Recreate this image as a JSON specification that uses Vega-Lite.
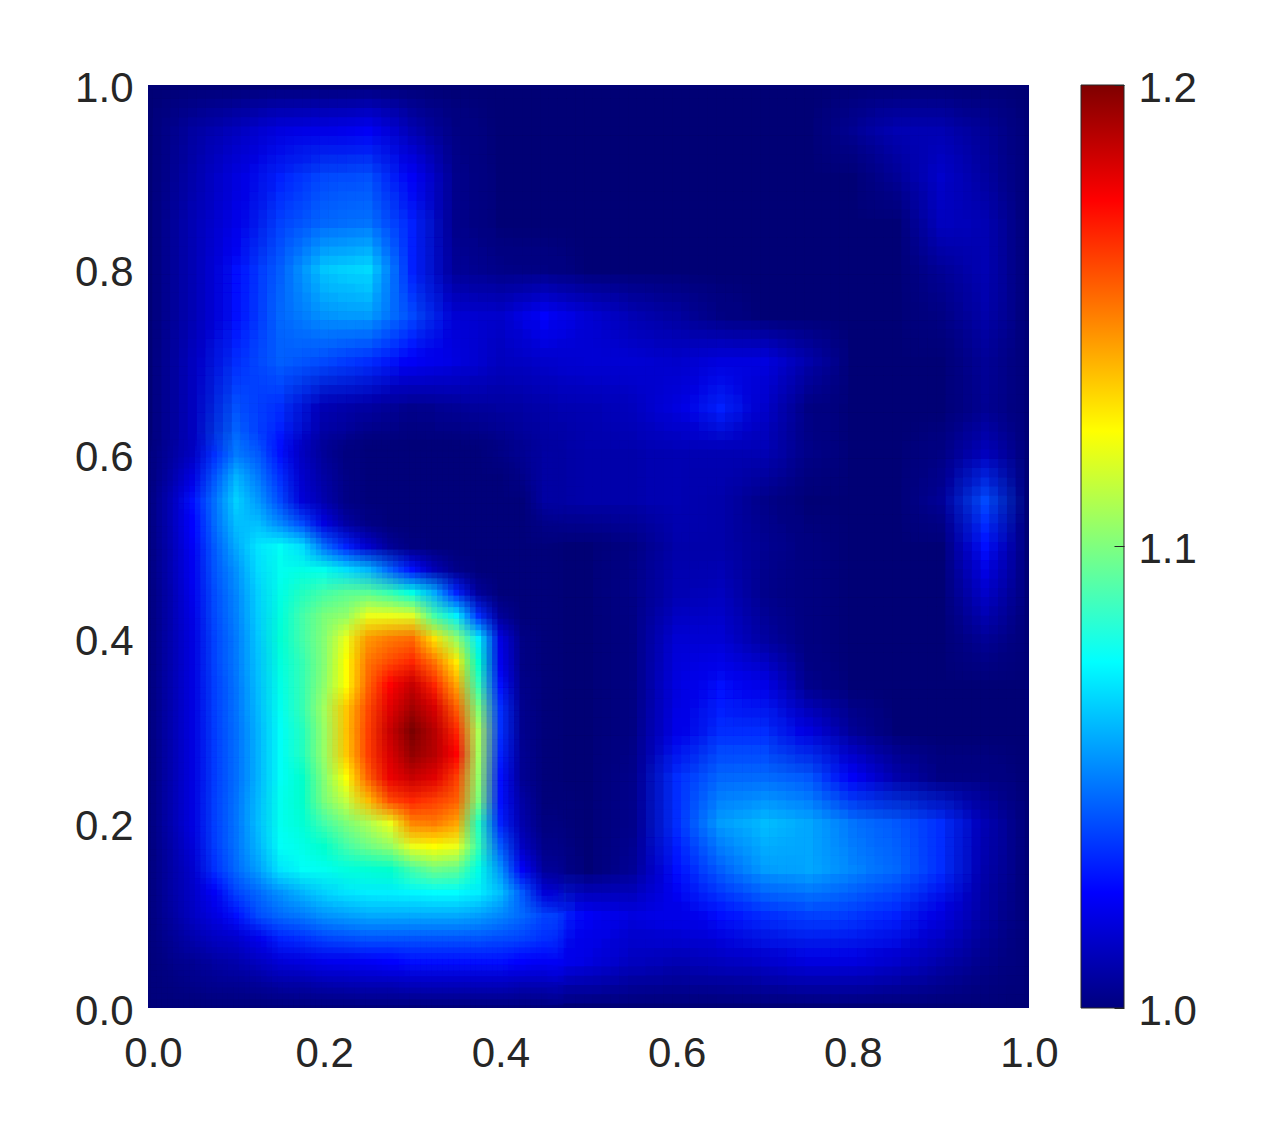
{"$schema":"https://vega.github.io/schema/vega-lite/v6.json","background":"white","padding":{"left":74,"top":67,"right":10,"bottom":10},"spacing":21,"config":{"view":{"stroke":null},"axis":{"labelFont":"Liberation Sans","labelFontSize":42,"labelColor":"#262626","grid":false,"domain":false,"title":null}},"hconcat":[{"width":881,"height":923,"view":{"fill":"#00007f"},"encoding":{"x":{"field":"xa","type":"quantitative","scale":{"domain":[0,1],"nice":false},"axis":{"values":[0,0.2,0.4,0.6,0.8,1],"format":".1f","ticks":false,"labelPadding":25,"labelOffset":{"condition":{"test":"datum.value==0","value":5},"value":0},"labelFlush":false}},"x2":{"field":"xb"},"y":{"field":"ya","type":"quantitative","scale":{"domain":[0,1],"nice":false},"axis":{"values":[0,0.2,0.4,0.6,0.8,1],"format":".1f","ticks":false,"labelPadding":15,"labelOffset":3,"labelFlush":false}},"y2":{"field":"yb"},"color":{"field":"v","type":"quantitative","scale":{"domain":[1,1.2],"range":["#00007f","#0000ff","#007fff","#00ffff","#7fff7f","#ffff00","#ff7f00","#ff0000","#7f0000"]},"legend":null},"opacity":{"field":"o","type":"quantitative","scale":null},"order":{"field":"k","type":"quantitative"}},"layer":[{"data":{"values":[
{"x":0,"y":1,"v":1},{"x":0.05,"y":1,"v":1},{"x":0.1,"y":1,"v":1},{"x":0.15,"y":1,"v":1},{"x":0.2,"y":1,"v":1},{"x":0.25,"y":1,"v":1},{"x":0.3,"y":1,"v":1},{"x":0.35,"y":1,"v":1},{"x":0.4,"y":1,"v":1},{"x":0.45,"y":1,"v":1},{"x":0.5,"y":1,"v":1},{"x":0.55,"y":1,"v":1},{"x":0.6,"y":1,"v":1},{"x":0.65,"y":1,"v":1},{"x":0.7,"y":1,"v":1},{"x":0.75,"y":1,"v":1},{"x":0.8,"y":1,"v":1},{"x":0.85,"y":1,"v":1},{"x":0.9,"y":1,"v":1},{"x":0.95,"y":1,"v":1},{"x":1,"y":1,"v":1},
{"x":0,"y":0.95,"v":1},{"x":0.05,"y":0.95,"v":1.008},{"x":0.1,"y":0.95,"v":1.014},{"x":0.15,"y":0.95,"v":1.02},{"x":0.2,"y":0.95,"v":1.022},{"x":0.25,"y":0.95,"v":1.024},{"x":0.3,"y":0.95,"v":1.012},{"x":0.35,"y":0.95,"v":1.002},{"x":0.4,"y":0.95,"v":1},{"x":0.45,"y":0.95,"v":1},{"x":0.5,"y":0.95,"v":1},{"x":0.55,"y":0.95,"v":1},{"x":0.6,"y":0.95,"v":1},{"x":0.65,"y":0.95,"v":1},{"x":0.7,"y":0.95,"v":1},{"x":0.75,"y":0.95,"v":1},{"x":0.8,"y":0.95,"v":1.005},{"x":0.85,"y":0.95,"v":1.012},{"x":0.9,"y":0.95,"v":1.012},{"x":0.95,"y":0.95,"v":1.006},{"x":1,"y":0.95,"v":1},
{"x":0,"y":0.9,"v":1},{"x":0.05,"y":0.9,"v":1.01},{"x":0.1,"y":0.9,"v":1.02},{"x":0.15,"y":0.9,"v":1.028},{"x":0.2,"y":0.9,"v":1.036},{"x":0.25,"y":0.9,"v":1.038},{"x":0.3,"y":0.9,"v":1.024},{"x":0.35,"y":0.9,"v":1.004},{"x":0.4,"y":0.9,"v":1},{"x":0.45,"y":0.9,"v":1},{"x":0.5,"y":0.9,"v":1},{"x":0.55,"y":0.9,"v":1},{"x":0.6,"y":0.9,"v":1},{"x":0.65,"y":0.9,"v":1},{"x":0.7,"y":0.9,"v":1},{"x":0.75,"y":0.9,"v":1},{"x":0.8,"y":0.9,"v":1},{"x":0.85,"y":0.9,"v":1.006},{"x":0.9,"y":0.9,"v":1.016},{"x":0.95,"y":0.9,"v":1.008},{"x":1,"y":0.9,"v":1},
{"x":0,"y":0.85,"v":1},{"x":0.05,"y":0.85,"v":1.012},{"x":0.1,"y":0.85,"v":1.022},{"x":0.15,"y":0.85,"v":1.034},{"x":0.2,"y":0.85,"v":1.044},{"x":0.25,"y":0.85,"v":1.048},{"x":0.3,"y":0.85,"v":1.028},{"x":0.35,"y":0.85,"v":1.004},{"x":0.4,"y":0.85,"v":1},{"x":0.45,"y":0.85,"v":1},{"x":0.5,"y":0.85,"v":1},{"x":0.55,"y":0.85,"v":1},{"x":0.6,"y":0.85,"v":1},{"x":0.65,"y":0.85,"v":1},{"x":0.7,"y":0.85,"v":1},{"x":0.75,"y":0.85,"v":1},{"x":0.8,"y":0.85,"v":1},{"x":0.85,"y":0.85,"v":1},{"x":0.9,"y":0.85,"v":1.014},{"x":0.95,"y":0.85,"v":1.012},{"x":1,"y":0.85,"v":1},
{"x":0,"y":0.8,"v":1},{"x":0.05,"y":0.8,"v":1.012},{"x":0.1,"y":0.8,"v":1.026},{"x":0.15,"y":0.8,"v":1.042},{"x":0.2,"y":0.8,"v":1.064},{"x":0.25,"y":0.8,"v":1.068},{"x":0.3,"y":0.8,"v":1.028},{"x":0.35,"y":0.8,"v":1.006},{"x":0.4,"y":0.8,"v":1.003},{"x":0.45,"y":0.8,"v":1.002},{"x":0.5,"y":0.8,"v":1},{"x":0.55,"y":0.8,"v":1},{"x":0.6,"y":0.8,"v":1},{"x":0.65,"y":0.8,"v":1},{"x":0.7,"y":0.8,"v":1},{"x":0.75,"y":0.8,"v":1},{"x":0.8,"y":0.8,"v":1},{"x":0.85,"y":0.8,"v":1},{"x":0.9,"y":0.8,"v":1.006},{"x":0.95,"y":0.8,"v":1.012},{"x":1,"y":0.8,"v":1},
{"x":0,"y":0.75,"v":1},{"x":0.05,"y":0.75,"v":1.012},{"x":0.1,"y":0.75,"v":1.026},{"x":0.15,"y":0.75,"v":1.044},{"x":0.2,"y":0.75,"v":1.054},{"x":0.25,"y":0.75,"v":1.056},{"x":0.3,"y":0.75,"v":1.036},{"x":0.35,"y":0.75,"v":1.018},{"x":0.4,"y":0.75,"v":1.016},{"x":0.45,"y":0.75,"v":1.025},{"x":0.5,"y":0.75,"v":1.018},{"x":0.55,"y":0.75,"v":1.012},{"x":0.6,"y":0.75,"v":1.008},{"x":0.65,"y":0.75,"v":1.002},{"x":0.7,"y":0.75,"v":1},{"x":0.75,"y":0.75,"v":1},{"x":0.8,"y":0.75,"v":1},{"x":0.85,"y":0.75,"v":1},{"x":0.9,"y":0.75,"v":1.002},{"x":0.95,"y":0.75,"v":1.01},{"x":1,"y":0.75,"v":1},
{"x":0,"y":0.7,"v":1},{"x":0.05,"y":0.7,"v":1.014},{"x":0.1,"y":0.7,"v":1.03},{"x":0.15,"y":0.7,"v":1.042},{"x":0.2,"y":0.7,"v":1.036},{"x":0.25,"y":0.7,"v":1.03},{"x":0.3,"y":0.7,"v":1.024},{"x":0.35,"y":0.7,"v":1.02},{"x":0.4,"y":0.7,"v":1.014},{"x":0.45,"y":0.7,"v":1.016},{"x":0.5,"y":0.7,"v":1.018},{"x":0.55,"y":0.7,"v":1.018},{"x":0.6,"y":0.7,"v":1.016},{"x":0.65,"y":0.7,"v":1.02},{"x":0.7,"y":0.7,"v":1.02},{"x":0.75,"y":0.7,"v":1.01},{"x":0.8,"y":0.7,"v":1},{"x":0.85,"y":0.7,"v":1},{"x":0.9,"y":0.7,"v":1},{"x":0.95,"y":0.7,"v":1.006},{"x":1,"y":0.7,"v":1},
{"x":0,"y":0.65,"v":1},{"x":0.05,"y":0.65,"v":1.014},{"x":0.1,"y":0.65,"v":1.038},{"x":0.15,"y":0.65,"v":1.03},{"x":0.2,"y":0.65,"v":1.012},{"x":0.25,"y":0.65,"v":1.008},{"x":0.3,"y":0.65,"v":1.004},{"x":0.35,"y":0.65,"v":1.006},{"x":0.4,"y":0.65,"v":1.008},{"x":0.45,"y":0.65,"v":1.01},{"x":0.5,"y":0.65,"v":1.012},{"x":0.55,"y":0.65,"v":1.014},{"x":0.6,"y":0.65,"v":1.02},{"x":0.65,"y":0.65,"v":1.028},{"x":0.7,"y":0.65,"v":1.016},{"x":0.75,"y":0.65,"v":1.002},{"x":0.8,"y":0.65,"v":1},{"x":0.85,"y":0.65,"v":1},{"x":0.9,"y":0.65,"v":1},{"x":0.95,"y":0.65,"v":1.005},{"x":1,"y":0.65,"v":1},
{"x":0,"y":0.6,"v":1},{"x":0.05,"y":0.6,"v":1.014},{"x":0.1,"y":0.6,"v":1.05},{"x":0.15,"y":0.6,"v":1.026},{"x":0.2,"y":0.6,"v":1.006},{"x":0.25,"y":0.6,"v":1},{"x":0.3,"y":0.6,"v":1},{"x":0.35,"y":0.6,"v":1},{"x":0.4,"y":0.6,"v":1.002},{"x":0.45,"y":0.6,"v":1.008},{"x":0.5,"y":0.6,"v":1.01},{"x":0.55,"y":0.6,"v":1.01},{"x":0.6,"y":0.6,"v":1.012},{"x":0.65,"y":0.6,"v":1.012},{"x":0.7,"y":0.6,"v":1.012},{"x":0.75,"y":0.6,"v":1.003},{"x":0.8,"y":0.6,"v":1},{"x":0.85,"y":0.6,"v":1},{"x":0.9,"y":0.6,"v":1.002},{"x":0.95,"y":0.6,"v":1.014},{"x":1,"y":0.6,"v":1},
{"x":0,"y":0.55,"v":1},{"x":0.05,"y":0.55,"v":1.026},{"x":0.1,"y":0.55,"v":1.066},{"x":0.15,"y":0.55,"v":1.035},{"x":0.2,"y":0.55,"v":1.01},{"x":0.25,"y":0.55,"v":1},{"x":0.3,"y":0.55,"v":1},{"x":0.35,"y":0.55,"v":1},{"x":0.4,"y":0.55,"v":1},{"x":0.45,"y":0.55,"v":1.008},{"x":0.5,"y":0.55,"v":1.01},{"x":0.55,"y":0.55,"v":1.01},{"x":0.6,"y":0.55,"v":1.012},{"x":0.65,"y":0.55,"v":1.01},{"x":0.7,"y":0.55,"v":1.003},{"x":0.75,"y":0.55,"v":1},{"x":0.8,"y":0.55,"v":1},{"x":0.85,"y":0.55,"v":1},{"x":0.9,"y":0.55,"v":1.006},{"x":0.95,"y":0.55,"v":1.036},{"x":1,"y":0.55,"v":1},
{"x":0,"y":0.5,"v":1},{"x":0.05,"y":0.5,"v":1.024},{"x":0.1,"y":0.5,"v":1.058},{"x":0.15,"y":0.5,"v":1.076},{"x":0.2,"y":0.5,"v":1.046},{"x":0.25,"y":0.5,"v":1.016},{"x":0.3,"y":0.5,"v":1.001},{"x":0.35,"y":0.5,"v":1},{"x":0.4,"y":0.5,"v":1},{"x":0.45,"y":0.5,"v":1},{"x":0.5,"y":0.5,"v":1},{"x":0.55,"y":0.5,"v":1.002},{"x":0.6,"y":0.5,"v":1.01},{"x":0.65,"y":0.5,"v":1.01},{"x":0.7,"y":0.5,"v":1.005},{"x":0.75,"y":0.5,"v":1.001},{"x":0.8,"y":0.5,"v":1},{"x":0.85,"y":0.5,"v":1},{"x":0.9,"y":0.5,"v":1},{"x":0.95,"y":0.5,"v":1.026},{"x":1,"y":0.5,"v":1},
{"x":0,"y":0.45,"v":1},{"x":0.05,"y":0.45,"v":1.022},{"x":0.1,"y":0.45,"v":1.052},{"x":0.15,"y":0.45,"v":1.08},{"x":0.2,"y":0.45,"v":1.092},{"x":0.25,"y":0.45,"v":1.095},{"x":0.3,"y":0.45,"v":1.076},{"x":0.35,"y":0.45,"v":1.028},{"x":0.4,"y":0.45,"v":1},{"x":0.45,"y":0.45,"v":1},{"x":0.5,"y":0.45,"v":1},{"x":0.55,"y":0.45,"v":1.003},{"x":0.6,"y":0.45,"v":1.012},{"x":0.65,"y":0.45,"v":1.014},{"x":0.7,"y":0.45,"v":1.004},{"x":0.75,"y":0.45,"v":1.001},{"x":0.8,"y":0.45,"v":1},{"x":0.85,"y":0.45,"v":1},{"x":0.9,"y":0.45,"v":1},{"x":0.95,"y":0.45,"v":1.016},{"x":1,"y":0.45,"v":1},
{"x":0,"y":0.4,"v":1},{"x":0.05,"y":0.4,"v":1.02},{"x":0.1,"y":0.4,"v":1.05},{"x":0.15,"y":0.4,"v":1.084},{"x":0.2,"y":0.4,"v":1.102},{"x":0.25,"y":0.4,"v":1.145},{"x":0.3,"y":0.4,"v":1.155},{"x":0.35,"y":0.4,"v":1.105},{"x":0.4,"y":0.4,"v":1.02},{"x":0.45,"y":0.4,"v":1},{"x":0.5,"y":0.4,"v":1},{"x":0.55,"y":0.4,"v":1.002},{"x":0.6,"y":0.4,"v":1.018},{"x":0.65,"y":0.4,"v":1.018},{"x":0.7,"y":0.4,"v":1.008},{"x":0.75,"y":0.4,"v":1.001},{"x":0.8,"y":0.4,"v":1},{"x":0.85,"y":0.4,"v":1},{"x":0.9,"y":0.4,"v":1},{"x":0.95,"y":0.4,"v":1.006},{"x":1,"y":0.4,"v":1},
{"x":0,"y":0.35,"v":1},{"x":0.05,"y":0.35,"v":1.02},{"x":0.1,"y":0.35,"v":1.048},{"x":0.15,"y":0.35,"v":1.08},{"x":0.2,"y":0.35,"v":1.104},{"x":0.25,"y":0.35,"v":1.158},{"x":0.3,"y":0.35,"v":1.185},{"x":0.35,"y":0.35,"v":1.142},{"x":0.4,"y":0.35,"v":1.026},{"x":0.45,"y":0.35,"v":1},{"x":0.5,"y":0.35,"v":1},{"x":0.55,"y":0.35,"v":1.002},{"x":0.6,"y":0.35,"v":1.02},{"x":0.65,"y":0.35,"v":1.026},{"x":0.7,"y":0.35,"v":1.022},{"x":0.75,"y":0.35,"v":1.004},{"x":0.8,"y":0.35,"v":1},{"x":0.85,"y":0.35,"v":1},{"x":0.9,"y":0.35,"v":1},{"x":0.95,"y":0.35,"v":1},{"x":1,"y":0.35,"v":1},
{"x":0,"y":0.3,"v":1},{"x":0.05,"y":0.3,"v":1.02},{"x":0.1,"y":0.3,"v":1.046},{"x":0.15,"y":0.3,"v":1.076},{"x":0.2,"y":0.3,"v":1.106},{"x":0.25,"y":0.3,"v":1.168},{"x":0.3,"y":0.3,"v":1.2},{"x":0.35,"y":0.3,"v":1.172},{"x":0.4,"y":0.3,"v":1.03},{"x":0.45,"y":0.3,"v":1},{"x":0.5,"y":0.3,"v":1},{"x":0.55,"y":0.3,"v":1.002},{"x":0.6,"y":0.3,"v":1.022},{"x":0.65,"y":0.3,"v":1.03},{"x":0.7,"y":0.3,"v":1.03},{"x":0.75,"y":0.3,"v":1.02},{"x":0.8,"y":0.3,"v":1.006},{"x":0.85,"y":0.3,"v":1},{"x":0.9,"y":0.3,"v":1},{"x":0.95,"y":0.3,"v":1},{"x":1,"y":0.3,"v":1},
{"x":0,"y":0.25,"v":1},{"x":0.05,"y":0.25,"v":1.02},{"x":0.1,"y":0.25,"v":1.046},{"x":0.15,"y":0.25,"v":1.076},{"x":0.2,"y":0.25,"v":1.102},{"x":0.25,"y":0.25,"v":1.16},{"x":0.3,"y":0.25,"v":1.185},{"x":0.35,"y":0.25,"v":1.168},{"x":0.4,"y":0.25,"v":1.026},{"x":0.45,"y":0.25,"v":1},{"x":0.5,"y":0.25,"v":1},{"x":0.55,"y":0.25,"v":1.004},{"x":0.6,"y":0.25,"v":1.03},{"x":0.65,"y":0.25,"v":1.044},{"x":0.7,"y":0.25,"v":1.046},{"x":0.75,"y":0.25,"v":1.04},{"x":0.8,"y":0.25,"v":1.024},{"x":0.85,"y":0.25,"v":1.01},{"x":0.9,"y":0.25,"v":1.002},{"x":0.95,"y":0.25,"v":1.002},{"x":1,"y":0.25,"v":1},
{"x":0,"y":0.2,"v":1},{"x":0.05,"y":0.2,"v":1.02},{"x":0.1,"y":0.2,"v":1.048},{"x":0.15,"y":0.2,"v":1.078},{"x":0.2,"y":0.2,"v":1.092},{"x":0.25,"y":0.2,"v":1.11},{"x":0.3,"y":0.2,"v":1.148},{"x":0.35,"y":0.2,"v":1.142},{"x":0.4,"y":0.2,"v":1.028},{"x":0.45,"y":0.2,"v":1.001},{"x":0.5,"y":0.2,"v":1},{"x":0.55,"y":0.2,"v":1.004},{"x":0.6,"y":0.2,"v":1.03},{"x":0.65,"y":0.2,"v":1.056},{"x":0.7,"y":0.2,"v":1.062},{"x":0.75,"y":0.2,"v":1.058},{"x":0.8,"y":0.2,"v":1.048},{"x":0.85,"y":0.2,"v":1.04},{"x":0.9,"y":0.2,"v":1.03},{"x":0.95,"y":0.2,"v":1.012},{"x":1,"y":0.2,"v":1},
{"x":0,"y":0.15,"v":1},{"x":0.05,"y":0.15,"v":1.016},{"x":0.1,"y":0.15,"v":1.044},{"x":0.15,"y":0.15,"v":1.07},{"x":0.2,"y":0.15,"v":1.078},{"x":0.25,"y":0.15,"v":1.084},{"x":0.3,"y":0.15,"v":1.092},{"x":0.35,"y":0.15,"v":1.096},{"x":0.4,"y":0.15,"v":1.054},{"x":0.45,"y":0.15,"v":1.006},{"x":0.5,"y":0.15,"v":1},{"x":0.55,"y":0.15,"v":1.006},{"x":0.6,"y":0.15,"v":1.026},{"x":0.65,"y":0.15,"v":1.042},{"x":0.7,"y":0.15,"v":1.056},{"x":0.75,"y":0.15,"v":1.058},{"x":0.8,"y":0.15,"v":1.052},{"x":0.85,"y":0.15,"v":1.044},{"x":0.9,"y":0.15,"v":1.03},{"x":0.95,"y":0.15,"v":1.01},{"x":1,"y":0.15,"v":1},
{"x":0,"y":0.1,"v":1},{"x":0.05,"y":0.1,"v":1.014},{"x":0.1,"y":0.1,"v":1.026},{"x":0.15,"y":0.1,"v":1.044},{"x":0.2,"y":0.1,"v":1.054},{"x":0.25,"y":0.1,"v":1.058},{"x":0.3,"y":0.1,"v":1.058},{"x":0.35,"y":0.1,"v":1.058},{"x":0.4,"y":0.1,"v":1.052},{"x":0.45,"y":0.1,"v":1.034},{"x":0.5,"y":0.1,"v":1.024},{"x":0.55,"y":0.1,"v":1.02},{"x":0.6,"y":0.1,"v":1.022},{"x":0.65,"y":0.1,"v":1.026},{"x":0.7,"y":0.1,"v":1.03},{"x":0.75,"y":0.1,"v":1.034},{"x":0.8,"y":0.1,"v":1.032},{"x":0.85,"y":0.1,"v":1.028},{"x":0.9,"y":0.1,"v":1.02},{"x":0.95,"y":0.1,"v":1.008},{"x":1,"y":0.1,"v":1},
{"x":0,"y":0.05,"v":1},{"x":0.05,"y":0.05,"v":1.005},{"x":0.1,"y":0.05,"v":1.01},{"x":0.15,"y":0.05,"v":1.018},{"x":0.2,"y":0.05,"v":1.022},{"x":0.25,"y":0.05,"v":1.024},{"x":0.3,"y":0.05,"v":1.026},{"x":0.35,"y":0.05,"v":1.026},{"x":0.4,"y":0.05,"v":1.026},{"x":0.45,"y":0.05,"v":1.024},{"x":0.5,"y":0.05,"v":1.02},{"x":0.55,"y":0.05,"v":1.014},{"x":0.6,"y":0.05,"v":1.012},{"x":0.65,"y":0.05,"v":1.014},{"x":0.7,"y":0.05,"v":1.016},{"x":0.75,"y":0.05,"v":1.02},{"x":0.8,"y":0.05,"v":1.02},{"x":0.85,"y":0.05,"v":1.016},{"x":0.9,"y":0.05,"v":1.01},{"x":0.95,"y":0.05,"v":1.004},{"x":1,"y":0.05,"v":1},
{"x":0,"y":0,"v":1},{"x":0.05,"y":0,"v":1},{"x":0.1,"y":0,"v":1},{"x":0.15,"y":0,"v":1},{"x":0.2,"y":0,"v":1},{"x":0.25,"y":0,"v":1},{"x":0.3,"y":0,"v":1},{"x":0.35,"y":0,"v":1},{"x":0.4,"y":0,"v":1},{"x":0.45,"y":0,"v":1},{"x":0.5,"y":0,"v":1},{"x":0.55,"y":0,"v":1},{"x":0.6,"y":0,"v":1},{"x":0.65,"y":0,"v":1},{"x":0.7,"y":0,"v":1},{"x":0.75,"y":0,"v":1},{"x":0.8,"y":0,"v":1},{"x":0.85,"y":0,"v":1},{"x":0.9,"y":0,"v":1},{"x":0.95,"y":0,"v":1},{"x":1,"y":0,"v":1}
]},"transform":[{"calculate":"[0,1,2,3,4,5,6,7,8,9,10,11,12,13,14,15,16,17,18,19,20,21,22,23,24]","as":"k"},{"flatten":["k"]},{"calculate":"1/(datum.k+1)","as":"o"},{"calculate":"datum.x+0.05*(datum.k%5-2)/5-0.025","as":"xa"},{"calculate":"datum.xa+0.05","as":"xb"},{"calculate":"datum.y+0.05*(floor(datum.k/5)-2)/5-0.025","as":"ya"},{"calculate":"datum.ya+0.05","as":"yb"}],"mark":{"type":"rect","clip":true}},{"data":{"values":[
{"x":0,"y":0.6,"v":1},{"x":0.025,"y":0.6,"v":1.007},{"x":0.05,"y":0.6,"v":1.014},{"x":0.075,"y":0.6,"v":1.03},{"x":0.1,"y":0.6,"v":1.05},{"x":0.125,"y":0.6,"v":1.04},{"x":0.15,"y":0.6,"v":1.026},{"x":0.175,"y":0.6,"v":1.014},{"x":0.2,"y":0.6,"v":1.006},{"x":0.225,"y":0.6,"v":1.001},{"x":0.25,"y":0.6,"v":1},{"x":0.275,"y":0.6,"v":1},{"x":0.3,"y":0.6,"v":1},{"x":0.325,"y":0.6,"v":1},{"x":0.35,"y":0.6,"v":1},{"x":0.375,"y":0.6,"v":1},{"x":0.4,"y":0.6,"v":1.002},{"x":0.425,"y":0.6,"v":1.005},{"x":0.45,"y":0.6,"v":1.008},
{"x":0,"y":0.575,"v":1},{"x":0.025,"y":0.575,"v":1.009},{"x":0.05,"y":0.575,"v":1.02},{"x":0.075,"y":0.575,"v":1.038},{"x":0.1,"y":0.575,"v":1.06},{"x":0.125,"y":0.575,"v":1.05},{"x":0.15,"y":0.575,"v":1.03},{"x":0.175,"y":0.575,"v":1.016},{"x":0.2,"y":0.575,"v":1.008},{"x":0.225,"y":0.575,"v":1.002},{"x":0.25,"y":0.575,"v":1},{"x":0.275,"y":0.575,"v":1},{"x":0.3,"y":0.575,"v":1},{"x":0.325,"y":0.575,"v":1},{"x":0.35,"y":0.575,"v":1},{"x":0.375,"y":0.575,"v":1},{"x":0.4,"y":0.575,"v":1},{"x":0.425,"y":0.575,"v":1.003},{"x":0.45,"y":0.575,"v":1.008},
{"x":0,"y":0.55,"v":1},{"x":0.025,"y":0.55,"v":1.012},{"x":0.05,"y":0.55,"v":1.026},{"x":0.075,"y":0.55,"v":1.046},{"x":0.1,"y":0.55,"v":1.066},{"x":0.125,"y":0.55,"v":1.055},{"x":0.15,"y":0.55,"v":1.035},{"x":0.175,"y":0.55,"v":1.018},{"x":0.2,"y":0.55,"v":1.01},{"x":0.225,"y":0.55,"v":1.002},{"x":0.25,"y":0.55,"v":1},{"x":0.275,"y":0.55,"v":1},{"x":0.3,"y":0.55,"v":1},{"x":0.325,"y":0.55,"v":1},{"x":0.35,"y":0.55,"v":1},{"x":0.375,"y":0.55,"v":1},{"x":0.4,"y":0.55,"v":1},{"x":0.425,"y":0.55,"v":1},{"x":0.45,"y":0.55,"v":1.008},
{"x":0,"y":0.525,"v":1},{"x":0.025,"y":0.525,"v":1.012},{"x":0.05,"y":0.525,"v":1.025},{"x":0.075,"y":0.525,"v":1.044},{"x":0.1,"y":0.525,"v":1.062},{"x":0.125,"y":0.525,"v":1.062},{"x":0.15,"y":0.525,"v":1.052},{"x":0.175,"y":0.525,"v":1.036},{"x":0.2,"y":0.525,"v":1.02},{"x":0.225,"y":0.525,"v":1.008},{"x":0.25,"y":0.525,"v":1.002},{"x":0.275,"y":0.525,"v":1},{"x":0.3,"y":0.525,"v":1},{"x":0.325,"y":0.525,"v":1},{"x":0.35,"y":0.525,"v":1},{"x":0.375,"y":0.525,"v":1},{"x":0.4,"y":0.525,"v":1},{"x":0.425,"y":0.525,"v":1},{"x":0.45,"y":0.525,"v":1.003},
{"x":0,"y":0.5,"v":1},{"x":0.025,"y":0.5,"v":1.011},{"x":0.05,"y":0.5,"v":1.024},{"x":0.075,"y":0.5,"v":1.04},{"x":0.1,"y":0.5,"v":1.058},{"x":0.125,"y":0.5,"v":1.07},{"x":0.15,"y":0.5,"v":1.076},{"x":0.175,"y":0.5,"v":1.068},{"x":0.2,"y":0.5,"v":1.046},{"x":0.225,"y":0.5,"v":1.028},{"x":0.25,"y":0.5,"v":1.016},{"x":0.275,"y":0.5,"v":1.006},{"x":0.3,"y":0.5,"v":1.001},{"x":0.325,"y":0.5,"v":1},{"x":0.35,"y":0.5,"v":1},{"x":0.375,"y":0.5,"v":1},{"x":0.4,"y":0.5,"v":1},{"x":0.425,"y":0.5,"v":1},{"x":0.45,"y":0.5,"v":1},
{"x":0,"y":0.475,"v":1},{"x":0.025,"y":0.475,"v":1.011},{"x":0.05,"y":0.475,"v":1.023},{"x":0.075,"y":0.475,"v":1.038},{"x":0.1,"y":0.475,"v":1.054},{"x":0.125,"y":0.475,"v":1.068},{"x":0.15,"y":0.475,"v":1.078},{"x":0.175,"y":0.475,"v":1.08},{"x":0.2,"y":0.475,"v":1.078},{"x":0.225,"y":0.475,"v":1.068},{"x":0.25,"y":0.475,"v":1.06},{"x":0.275,"y":0.475,"v":1.042},{"x":0.3,"y":0.475,"v":1.026},{"x":0.325,"y":0.475,"v":1.012},{"x":0.35,"y":0.475,"v":1.003},{"x":0.375,"y":0.475,"v":1},{"x":0.4,"y":0.475,"v":1},{"x":0.425,"y":0.475,"v":1},{"x":0.45,"y":0.475,"v":1},
{"x":0,"y":0.45,"v":1},{"x":0.025,"y":0.45,"v":1.01},{"x":0.05,"y":0.45,"v":1.022},{"x":0.075,"y":0.45,"v":1.036},{"x":0.1,"y":0.45,"v":1.052},{"x":0.125,"y":0.45,"v":1.066},{"x":0.15,"y":0.45,"v":1.08},{"x":0.175,"y":0.45,"v":1.088},{"x":0.2,"y":0.45,"v":1.092},{"x":0.225,"y":0.45,"v":1.095},{"x":0.25,"y":0.45,"v":1.095},{"x":0.275,"y":0.45,"v":1.09},{"x":0.3,"y":0.45,"v":1.08},{"x":0.325,"y":0.45,"v":1.058},{"x":0.35,"y":0.45,"v":1.028},{"x":0.375,"y":0.45,"v":1.006},{"x":0.4,"y":0.45,"v":1},{"x":0.425,"y":0.45,"v":1},{"x":0.45,"y":0.45,"v":1},
{"x":0,"y":0.425,"v":1},{"x":0.025,"y":0.425,"v":1.01},{"x":0.05,"y":0.425,"v":1.021},{"x":0.075,"y":0.425,"v":1.035},{"x":0.1,"y":0.425,"v":1.051},{"x":0.125,"y":0.425,"v":1.065},{"x":0.15,"y":0.425,"v":1.082},{"x":0.175,"y":0.425,"v":1.092},{"x":0.2,"y":0.425,"v":1.1},{"x":0.225,"y":0.425,"v":1.105},{"x":0.25,"y":0.425,"v":1.122},{"x":0.275,"y":0.425,"v":1.122},{"x":0.3,"y":0.425,"v":1.12},{"x":0.325,"y":0.425,"v":1.092},{"x":0.35,"y":0.425,"v":1.072},{"x":0.375,"y":0.425,"v":1.03},{"x":0.4,"y":0.425,"v":1.006},{"x":0.425,"y":0.425,"v":1},{"x":0.45,"y":0.425,"v":1},
{"x":0,"y":0.4,"v":1},{"x":0.025,"y":0.4,"v":1.01},{"x":0.05,"y":0.4,"v":1.02},{"x":0.075,"y":0.4,"v":1.034},{"x":0.1,"y":0.4,"v":1.05},{"x":0.125,"y":0.4,"v":1.064},{"x":0.15,"y":0.4,"v":1.084},{"x":0.175,"y":0.4,"v":1.092},{"x":0.2,"y":0.4,"v":1.102},{"x":0.225,"y":0.4,"v":1.122},{"x":0.25,"y":0.4,"v":1.145},{"x":0.275,"y":0.4,"v":1.15},{"x":0.3,"y":0.4,"v":1.155},{"x":0.325,"y":0.4,"v":1.13},{"x":0.35,"y":0.4,"v":1.105},{"x":0.375,"y":0.4,"v":1.072},{"x":0.4,"y":0.4,"v":1.02},{"x":0.425,"y":0.4,"v":1.002},{"x":0.45,"y":0.4,"v":1},
{"x":0,"y":0.375,"v":1},{"x":0.025,"y":0.375,"v":1.01},{"x":0.05,"y":0.375,"v":1.02},{"x":0.075,"y":0.375,"v":1.034},{"x":0.1,"y":0.375,"v":1.049},{"x":0.125,"y":0.375,"v":1.063},{"x":0.15,"y":0.375,"v":1.082},{"x":0.175,"y":0.375,"v":1.09},{"x":0.2,"y":0.375,"v":1.102},{"x":0.225,"y":0.375,"v":1.125},{"x":0.25,"y":0.375,"v":1.152},{"x":0.275,"y":0.375,"v":1.165},{"x":0.3,"y":0.375,"v":1.172},{"x":0.325,"y":0.375,"v":1.152},{"x":0.35,"y":0.375,"v":1.128},{"x":0.375,"y":0.375,"v":1.085},{"x":0.4,"y":0.375,"v":1.022},{"x":0.425,"y":0.375,"v":1.002},{"x":0.45,"y":0.375,"v":1},
{"x":0,"y":0.35,"v":1},{"x":0.025,"y":0.35,"v":1.01},{"x":0.05,"y":0.35,"v":1.02},{"x":0.075,"y":0.35,"v":1.033},{"x":0.1,"y":0.35,"v":1.048},{"x":0.125,"y":0.35,"v":1.062},{"x":0.15,"y":0.35,"v":1.08},{"x":0.175,"y":0.35,"v":1.09},{"x":0.2,"y":0.35,"v":1.104},{"x":0.225,"y":0.35,"v":1.125},{"x":0.25,"y":0.35,"v":1.158},{"x":0.275,"y":0.35,"v":1.175},{"x":0.3,"y":0.35,"v":1.185},{"x":0.325,"y":0.35,"v":1.172},{"x":0.35,"y":0.35,"v":1.142},{"x":0.375,"y":0.35,"v":1.09},{"x":0.4,"y":0.35,"v":1.026},{"x":0.425,"y":0.35,"v":1.003},{"x":0.45,"y":0.35,"v":1},
{"x":0,"y":0.325,"v":1},{"x":0.025,"y":0.325,"v":1.01},{"x":0.05,"y":0.325,"v":1.02},{"x":0.075,"y":0.325,"v":1.033},{"x":0.1,"y":0.325,"v":1.047},{"x":0.125,"y":0.325,"v":1.061},{"x":0.15,"y":0.325,"v":1.078},{"x":0.175,"y":0.325,"v":1.09},{"x":0.2,"y":0.325,"v":1.108},{"x":0.225,"y":0.325,"v":1.135},{"x":0.25,"y":0.325,"v":1.165},{"x":0.275,"y":0.325,"v":1.18},{"x":0.3,"y":0.325,"v":1.192},{"x":0.325,"y":0.325,"v":1.182},{"x":0.35,"y":0.325,"v":1.16},{"x":0.375,"y":0.325,"v":1.1},{"x":0.4,"y":0.325,"v":1.03},{"x":0.425,"y":0.325,"v":1.004},{"x":0.45,"y":0.325,"v":1},
{"x":0,"y":0.3,"v":1},{"x":0.025,"y":0.3,"v":1.01},{"x":0.05,"y":0.3,"v":1.02},{"x":0.075,"y":0.3,"v":1.032},{"x":0.1,"y":0.3,"v":1.046},{"x":0.125,"y":0.3,"v":1.06},{"x":0.15,"y":0.3,"v":1.076},{"x":0.175,"y":0.3,"v":1.088},{"x":0.2,"y":0.3,"v":1.106},{"x":0.225,"y":0.3,"v":1.136},{"x":0.25,"y":0.3,"v":1.168},{"x":0.275,"y":0.3,"v":1.185},{"x":0.3,"y":0.3,"v":1.2},{"x":0.325,"y":0.3,"v":1.188},{"x":0.35,"y":0.3,"v":1.172},{"x":0.375,"y":0.3,"v":1.11},{"x":0.4,"y":0.3,"v":1.03},{"x":0.425,"y":0.3,"v":1.004},{"x":0.45,"y":0.3,"v":1},
{"x":0,"y":0.275,"v":1},{"x":0.025,"y":0.275,"v":1.01},{"x":0.05,"y":0.275,"v":1.02},{"x":0.075,"y":0.275,"v":1.032},{"x":0.1,"y":0.275,"v":1.046},{"x":0.125,"y":0.275,"v":1.06},{"x":0.15,"y":0.275,"v":1.076},{"x":0.175,"y":0.275,"v":1.088},{"x":0.2,"y":0.275,"v":1.106},{"x":0.225,"y":0.275,"v":1.135},{"x":0.25,"y":0.275,"v":1.168},{"x":0.275,"y":0.275,"v":1.182},{"x":0.3,"y":0.275,"v":1.195},{"x":0.325,"y":0.275,"v":1.188},{"x":0.35,"y":0.275,"v":1.175},{"x":0.375,"y":0.275,"v":1.108},{"x":0.4,"y":0.275,"v":1.028},{"x":0.425,"y":0.275,"v":1.005},{"x":0.45,"y":0.275,"v":1},
{"x":0,"y":0.25,"v":1},{"x":0.025,"y":0.25,"v":1.01},{"x":0.05,"y":0.25,"v":1.02},{"x":0.075,"y":0.25,"v":1.032},{"x":0.1,"y":0.25,"v":1.046},{"x":0.125,"y":0.25,"v":1.06},{"x":0.15,"y":0.25,"v":1.076},{"x":0.175,"y":0.25,"v":1.086},{"x":0.2,"y":0.25,"v":1.102},{"x":0.225,"y":0.25,"v":1.125},{"x":0.25,"y":0.25,"v":1.16},{"x":0.275,"y":0.25,"v":1.178},{"x":0.3,"y":0.25,"v":1.185},{"x":0.325,"y":0.25,"v":1.18},{"x":0.35,"y":0.25,"v":1.168},{"x":0.375,"y":0.25,"v":1.105},{"x":0.4,"y":0.25,"v":1.026},{"x":0.425,"y":0.25,"v":1.005},{"x":0.45,"y":0.25,"v":1},
{"x":0,"y":0.225,"v":1},{"x":0.025,"y":0.225,"v":1.01},{"x":0.05,"y":0.225,"v":1.02},{"x":0.075,"y":0.225,"v":1.033},{"x":0.1,"y":0.225,"v":1.047},{"x":0.125,"y":0.225,"v":1.061},{"x":0.15,"y":0.225,"v":1.078},{"x":0.175,"y":0.225,"v":1.086},{"x":0.2,"y":0.225,"v":1.1},{"x":0.225,"y":0.225,"v":1.115},{"x":0.25,"y":0.225,"v":1.138},{"x":0.275,"y":0.225,"v":1.165},{"x":0.3,"y":0.225,"v":1.172},{"x":0.325,"y":0.225,"v":1.168},{"x":0.35,"y":0.225,"v":1.16},{"x":0.375,"y":0.225,"v":1.1},{"x":0.4,"y":0.225,"v":1.026},{"x":0.425,"y":0.225,"v":1.008},{"x":0.45,"y":0.225,"v":1},
{"x":0,"y":0.2,"v":1},{"x":0.025,"y":0.2,"v":1.01},{"x":0.05,"y":0.2,"v":1.02},{"x":0.075,"y":0.2,"v":1.033},{"x":0.1,"y":0.2,"v":1.048},{"x":0.125,"y":0.2,"v":1.062},{"x":0.15,"y":0.2,"v":1.078},{"x":0.175,"y":0.2,"v":1.084},{"x":0.2,"y":0.2,"v":1.092},{"x":0.225,"y":0.2,"v":1.1},{"x":0.25,"y":0.2,"v":1.11},{"x":0.275,"y":0.2,"v":1.122},{"x":0.3,"y":0.2,"v":1.148},{"x":0.325,"y":0.2,"v":1.15},{"x":0.35,"y":0.2,"v":1.142},{"x":0.375,"y":0.2,"v":1.088},{"x":0.4,"y":0.2,"v":1.028},{"x":0.425,"y":0.2,"v":1.01},{"x":0.45,"y":0.2,"v":1.001},
{"x":0,"y":0.175,"v":1},{"x":0.025,"y":0.175,"v":1.009},{"x":0.05,"y":0.175,"v":1.018},{"x":0.075,"y":0.175,"v":1.032},{"x":0.1,"y":0.175,"v":1.047},{"x":0.125,"y":0.175,"v":1.06},{"x":0.15,"y":0.175,"v":1.076},{"x":0.175,"y":0.175,"v":1.08},{"x":0.2,"y":0.175,"v":1.086},{"x":0.225,"y":0.175,"v":1.092},{"x":0.25,"y":0.175,"v":1.098},{"x":0.275,"y":0.175,"v":1.105},{"x":0.3,"y":0.175,"v":1.122},{"x":0.325,"y":0.175,"v":1.125},{"x":0.35,"y":0.175,"v":1.122},{"x":0.375,"y":0.175,"v":1.09},{"x":0.4,"y":0.175,"v":1.04},{"x":0.425,"y":0.175,"v":1.014},{"x":0.45,"y":0.175,"v":1.003},
{"x":0,"y":0.15,"v":1},{"x":0.025,"y":0.15,"v":1.008},{"x":0.05,"y":0.15,"v":1.016},{"x":0.075,"y":0.15,"v":1.03},{"x":0.1,"y":0.15,"v":1.044},{"x":0.125,"y":0.15,"v":1.056},{"x":0.15,"y":0.15,"v":1.07},{"x":0.175,"y":0.15,"v":1.076},{"x":0.2,"y":0.15,"v":1.078},{"x":0.225,"y":0.15,"v":1.082},{"x":0.25,"y":0.15,"v":1.084},{"x":0.275,"y":0.15,"v":1.086},{"x":0.3,"y":0.15,"v":1.092},{"x":0.325,"y":0.15,"v":1.098},{"x":0.35,"y":0.15,"v":1.096},{"x":0.375,"y":0.15,"v":1.08},{"x":0.4,"y":0.15,"v":1.054},{"x":0.425,"y":0.15,"v":1.024},{"x":0.45,"y":0.15,"v":1.006},
{"x":0,"y":0.125,"v":1},{"x":0.025,"y":0.125,"v":1.008},{"x":0.05,"y":0.125,"v":1.015},{"x":0.075,"y":0.125,"v":1.024},{"x":0.1,"y":0.125,"v":1.034},{"x":0.125,"y":0.125,"v":1.044},{"x":0.15,"y":0.125,"v":1.054},{"x":0.175,"y":0.125,"v":1.06},{"x":0.2,"y":0.125,"v":1.066},{"x":0.225,"y":0.125,"v":1.07},{"x":0.25,"y":0.125,"v":1.072},{"x":0.275,"y":0.125,"v":1.073},{"x":0.3,"y":0.125,"v":1.074},{"x":0.325,"y":0.125,"v":1.075},{"x":0.35,"y":0.125,"v":1.075},{"x":0.375,"y":0.125,"v":1.072},{"x":0.4,"y":0.125,"v":1.062},{"x":0.425,"y":0.125,"v":1.04},{"x":0.45,"y":0.125,"v":1.018},
{"x":0,"y":0.1,"v":1},{"x":0.025,"y":0.1,"v":1.007},{"x":0.05,"y":0.1,"v":1.014},{"x":0.075,"y":0.1,"v":1.02},{"x":0.1,"y":0.1,"v":1.026},{"x":0.125,"y":0.1,"v":1.036},{"x":0.15,"y":0.1,"v":1.044},{"x":0.175,"y":0.1,"v":1.05},{"x":0.2,"y":0.1,"v":1.054},{"x":0.225,"y":0.1,"v":1.056},{"x":0.25,"y":0.1,"v":1.058},{"x":0.275,"y":0.1,"v":1.058},{"x":0.3,"y":0.1,"v":1.058},{"x":0.325,"y":0.1,"v":1.058},{"x":0.35,"y":0.1,"v":1.058},{"x":0.375,"y":0.1,"v":1.056},{"x":0.4,"y":0.1,"v":1.052},{"x":0.425,"y":0.1,"v":1.044},{"x":0.45,"y":0.1,"v":1.034},
{"x":0,"y":0.075,"v":1},{"x":0.025,"y":0.075,"v":1.005},{"x":0.05,"y":0.075,"v":1.01},{"x":0.075,"y":0.075,"v":1.014},{"x":0.1,"y":0.075,"v":1.016},{"x":0.125,"y":0.075,"v":1.022},{"x":0.15,"y":0.075,"v":1.028},{"x":0.175,"y":0.075,"v":1.03},{"x":0.2,"y":0.075,"v":1.034},{"x":0.225,"y":0.075,"v":1.036},{"x":0.25,"y":0.075,"v":1.038},{"x":0.275,"y":0.075,"v":1.038},{"x":0.3,"y":0.075,"v":1.038},{"x":0.325,"y":0.075,"v":1.038},{"x":0.35,"y":0.075,"v":1.038},{"x":0.375,"y":0.075,"v":1.038},{"x":0.4,"y":0.075,"v":1.036},{"x":0.425,"y":0.075,"v":1.034},{"x":0.45,"y":0.075,"v":1.03},
{"x":0,"y":0.05,"v":1},{"x":0.025,"y":0.05,"v":1.003},{"x":0.05,"y":0.05,"v":1.005},{"x":0.075,"y":0.05,"v":1.008},{"x":0.1,"y":0.05,"v":1.01},{"x":0.125,"y":0.05,"v":1.014},{"x":0.15,"y":0.05,"v":1.018},{"x":0.175,"y":0.05,"v":1.02},{"x":0.2,"y":0.05,"v":1.022},{"x":0.225,"y":0.05,"v":1.023},{"x":0.25,"y":0.05,"v":1.024},{"x":0.275,"y":0.05,"v":1.025},{"x":0.3,"y":0.05,"v":1.026},{"x":0.325,"y":0.05,"v":1.026},{"x":0.35,"y":0.05,"v":1.026},{"x":0.375,"y":0.05,"v":1.026},{"x":0.4,"y":0.05,"v":1.026},{"x":0.425,"y":0.05,"v":1.025},{"x":0.45,"y":0.05,"v":1.024},
{"x":0,"y":0.025,"v":1},{"x":0.025,"y":0.025,"v":1.001},{"x":0.05,"y":0.025,"v":1.003},{"x":0.075,"y":0.025,"v":1.004},{"x":0.1,"y":0.025,"v":1.005},{"x":0.125,"y":0.025,"v":1.006},{"x":0.15,"y":0.025,"v":1.008},{"x":0.175,"y":0.025,"v":1.009},{"x":0.2,"y":0.025,"v":1.01},{"x":0.225,"y":0.025,"v":1.011},{"x":0.25,"y":0.025,"v":1.012},{"x":0.275,"y":0.025,"v":1.012},{"x":0.3,"y":0.025,"v":1.013},{"x":0.325,"y":0.025,"v":1.013},{"x":0.35,"y":0.025,"v":1.013},{"x":0.375,"y":0.025,"v":1.013},{"x":0.4,"y":0.025,"v":1.013},{"x":0.425,"y":0.025,"v":1.012},{"x":0.45,"y":0.025,"v":1.012},
{"x":0,"y":0,"v":1},{"x":0.025,"y":0,"v":1},{"x":0.05,"y":0,"v":1},{"x":0.075,"y":0,"v":1},{"x":0.1,"y":0,"v":1},{"x":0.125,"y":0,"v":1},{"x":0.15,"y":0,"v":1},{"x":0.175,"y":0,"v":1},{"x":0.2,"y":0,"v":1},{"x":0.225,"y":0,"v":1},{"x":0.25,"y":0,"v":1},{"x":0.275,"y":0,"v":1},{"x":0.3,"y":0,"v":1},{"x":0.325,"y":0,"v":1},{"x":0.35,"y":0,"v":1},{"x":0.375,"y":0,"v":1},{"x":0.4,"y":0,"v":1},{"x":0.425,"y":0,"v":1},{"x":0.45,"y":0,"v":1}
]},"transform":[{"calculate":"[0,1,2,3,4,5,6,7,8,9,10,11,12,13,14,15]","as":"k"},{"flatten":["k"]},{"calculate":"1/(datum.k+1)","as":"o"},{"calculate":"datum.x+0.025*(datum.k%4-1.5)/4-0.0125","as":"xa"},{"calculate":"datum.xa+0.025","as":"xb"},{"calculate":"datum.y+0.025*(floor(datum.k/4)-1.5)/4-0.0125","as":"ya"},{"calculate":"datum.ya+0.025","as":"yb"}],"mark":{"type":"rect","clip":true}}]},{"width":43,"height":923,"data":{"values":[{"a":0,"b":1,"lo":1,"hi":1.2}]},"mark":{"type":"rect","stroke":"#262626","strokeWidth":1,"fill":{"gradient":"linear","x1":0,"y1":1,"x2":0,"y2":0,"stops":[{"offset":0,"color":"#00007f"},{"offset":0.125,"color":"#0000ff"},{"offset":0.25,"color":"#007fff"},{"offset":0.375,"color":"#00ffff"},{"offset":0.5,"color":"#7fff7f"},{"offset":0.625,"color":"#ffff00"},{"offset":0.75,"color":"#ff7f00"},{"offset":0.875,"color":"#ff0000"},{"offset":1,"color":"#7f0000"}]}},"encoding":{"x":{"field":"a","type":"quantitative","scale":{"domain":[0,1],"nice":false},"axis":null},"x2":{"field":"b"},"y":{"field":"lo","type":"quantitative","scale":{"domain":[1,1.2],"nice":false},"axis":{"orient":"right","values":[1,1.1,1.2],"format":".1f","ticks":true,"tickSize":-10,"tickColor":"#262626","tickWidth":1,"labelPadding":24,"labelOffset":3,"labelFlush":false,"zindex":1}},"y2":{"field":"hi"}}}]}
